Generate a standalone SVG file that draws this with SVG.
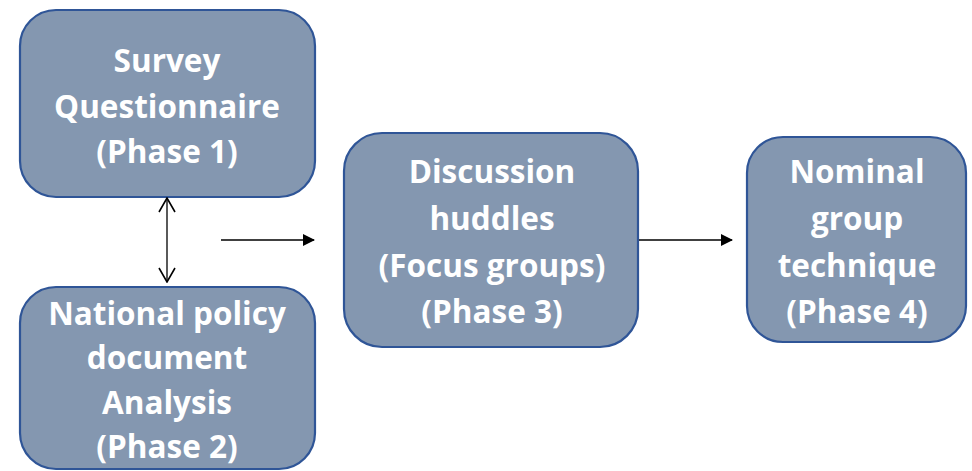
<svg xmlns="http://www.w3.org/2000/svg" width="972" height="471" viewBox="0 0 972 471">
<defs>
<style>
.box{fill:#8497b0;stroke:#2f5597;stroke-width:2.2}
.t{font-family:"Open Sans","Liberation Sans",sans-serif;font-weight:bold;font-size:31.5px;fill:#ffffff;text-anchor:middle}
.c{stroke:#000;stroke-width:1.3;fill:none}
</style>
<marker id="open" viewBox="0 0 16 18" refX="15" refY="9" markerWidth="16" markerHeight="18" markerUnits="userSpaceOnUse" orient="auto-start-reverse">
<path d="M1,1 L15,9 L1,17" fill="none" stroke="#000" stroke-width="1.6"/>
</marker>
<marker id="solid" viewBox="0 0 12 12" refX="11" refY="6" markerWidth="12" markerHeight="12" markerUnits="userSpaceOnUse" orient="auto">
<path d="M0,0 L12,6 L0,12 Z" fill="#000"/>
</marker>
</defs>
<rect width="972" height="471" fill="#fff"/>
<g id="n1">
<rect class="box" x="20" y="10" width="295" height="187" rx="36"/>
<text class="t" x="167" y="72">Survey</text>
<text class="t" x="167" y="118">Questionnaire</text>
<text class="t" x="167" y="163">(Phase 1)</text>
</g>
<g id="n2">
<rect class="box" x="20" y="287" width="295" height="182" rx="36"/>
<text class="t" x="167" y="325">National policy</text>
<text class="t" x="167" y="369">document</text>
<text class="t" x="167" y="414">Analysis</text>
<text class="t" x="167" y="458">(Phase 2)</text>
</g>
<g id="n3">
<rect class="box" x="344" y="133" width="294" height="214" rx="38"/>
<text class="t" x="492" y="183">Discussion</text>
<text class="t" x="492" y="230">huddles</text>
<text class="t" x="492" y="277">(Focus groups)</text>
<text class="t" x="492" y="323">(Phase 3)</text>
</g>
<g id="n4">
<rect class="box" x="747" y="137" width="219" height="205" rx="36"/>
<text class="t" x="857" y="183">Nominal</text>
<text class="t" x="857" y="230">group</text>
<text class="t" x="857" y="277">technique</text>
<text class="t" x="857" y="323">(Phase 4)</text>
</g>
<g id="connectors">
<line class="c" x1="167" y1="198" x2="167" y2="282" marker-start="url(#open)" marker-end="url(#open)"/>
<line class="c" x1="221" y1="240" x2="314" y2="240" marker-end="url(#solid)"/>
<line class="c" x1="639" y1="240" x2="732" y2="240" marker-end="url(#solid)"/>
</g>
</svg>
